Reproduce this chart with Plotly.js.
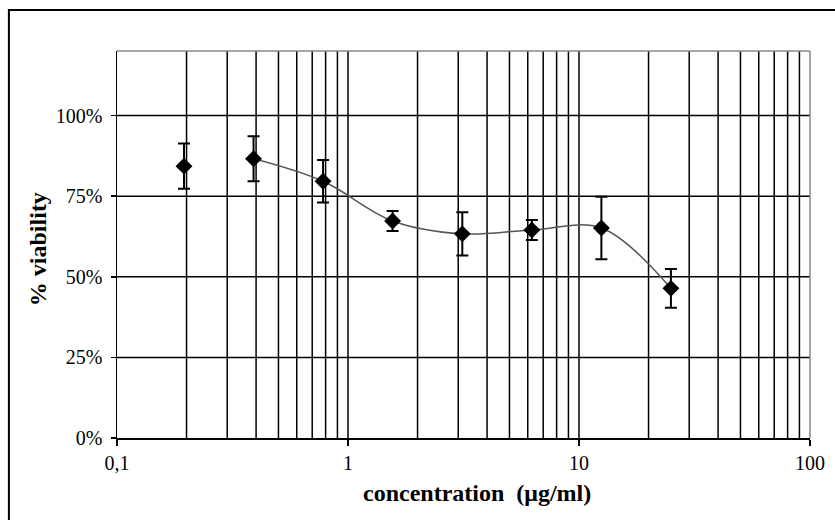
<!DOCTYPE html>
<html>
<head>
<meta charset="utf-8">
<script src="https://cdn.plot.ly/plotly-3.0.1.min.js"></script>
<style>html,body{margin:0;padding:0;background:#fff;}#chart{width:835px;height:520px;}</style>
</head>
<body>
<div id="chart"></div>
<script>
const concentration = [0.195, 0.39, 0.78, 1.56, 3.125, 6.25, 12.5, 25];
const viability = [84.3, 86.6, 79.6, 67.3, 63.3, 64.5, 65.1, 46.4];
const errors = [7.0, 7.0, 6.6, 3.1, 6.7, 3.1, 9.7, 6.0];
const xTickVals = [0.1, 1, 10, 100];
const xTickText = ["0,1", "1", "10", "100"];
const yTickVals = [0, 25, 50, 75, 100];
const yTickText = ["0%", "25%", "50%", "75%", "100%"];
const xTitle = "concentration&nbsp;&nbsp;(μg/ml)";
const yTitle = "% viability";

const minorVals = [];
[0.1, 1, 10].forEach(d => { for (let k = 2; k <= 9; k++) minorVals.push(d * k); });

const serif = "Liberation Serif, Times New Roman, serif";

const traces = [
  {
    x: concentration.slice(1), y: viability.slice(1),
    type: "scatter", mode: "lines",
    line: {shape: "spline", smoothing: 1, color: "#555555", width: 1.5},
    hoverinfo: "skip", showlegend: false
  },
  {
    x: concentration, y: viability,
    type: "scatter", mode: "markers",
    marker: {symbol: "diamond", size: 13, color: "#000000"},
    error_y: {type: "data", array: errors, visible: true, color: "#000000", thickness: 2, width: 6},
    showlegend: false
  }
];

const shapes = [];
minorVals.concat([1, 10]).forEach(v => {
  shapes.push({type: "line", xref: "x", yref: "paper", x0: v, x1: v, y0: 0, y1: 1,
    line: {color: "#000000", width: 1.5}, layer: "below"});
});
[25, 50, 75, 100].forEach(v => {
  shapes.push({type: "line", xref: "paper", yref: "y", x0: 0, x1: 1, y0: v, y1: v,
    line: {color: "#000000", width: 1.5}, layer: "below"});
});
shapes.push({type: "line", xref: "paper", yref: "paper", x0: 0, x1: 1, y0: 1, y1: 1, line: {color: "#888888", width: 1.5}, layer: "below"});
shapes.push({type: "line", xref: "paper", yref: "paper", x0: 1, x1: 1, y0: 0, y1: 1, line: {color: "#888888", width: 1.5}, layer: "below"});
shapes.push({type: "rect", xref: "paper", yref: "paper", x0: -0.156, x1: 1.2, y0: -0.4, y1: 1.106,
  line: {color: "#000000", width: 2}, fillcolor: "rgba(0,0,0,0)"});

const layout = {
  width: 835, height: 520,
  margin: {l: 117, r: 25, t: 51, b: 82},
  paper_bgcolor: "#ffffff", plot_bgcolor: "#ffffff",
  font: {family: serif, size: 20, color: "#000000"},
  xaxis: {
    type: "log", range: [-1, 2], showgrid: false, zeroline: false,
    tickvals: xTickVals, ticktext: xTickText,
    ticks: "outside", ticklen: 6, tickwidth: 1.5, tickcolor: "#000",
    showline: true, linecolor: "#000", linewidth: 1.5,
    tickfont: {family: serif, size: 20}
  },
  yaxis: {
    range: [0, 120], showgrid: false, zeroline: false,
    tickvals: yTickVals, ticktext: yTickText,
    ticks: "outside", ticklen: 5, tickwidth: 1.5, tickcolor: "#000",
    ticklabelstandoff: 4,
    showline: true, linecolor: "#000", linewidth: 1.5,
    tickfont: {family: serif, size: 20}
  },
  annotations: [
    {text: "<b>" + xTitle + "</b>", xref: "paper", yref: "paper", x: 0.519, y: -0.142,
     xanchor: "center", yanchor: "middle", showarrow: false, font: {family: serif, size: 24}},
    {text: "<b>" + yTitle + "</b>", xref: "paper", yref: "paper", x: -0.114, y: 0.488,
     xanchor: "center", yanchor: "middle", textangle: -90, showarrow: false, font: {family: serif, size: 24}}
  ],
  shapes: shapes
};

Plotly.newPlot("chart", traces, layout, {displayModeBar: false, staticPlot: true});
</script>
</body>
</html>
